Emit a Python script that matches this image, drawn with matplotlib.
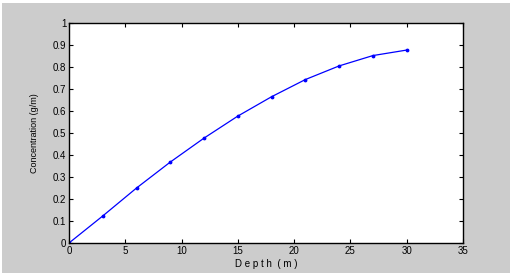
import matplotlib.pyplot as plt
import numpy as np

depth = [0, 3, 6, 9, 12, 15, 18, 21, 24, 27, 30]
conc = [0, 0.123, 0.25, 0.368, 0.477, 0.577, 0.665, 0.743, 0.805, 0.852, 0.877]

plt.rcParams['font.family'] = ['Liberation Sans', 'DejaVu Sans']

fig = plt.figure(figsize=(5.14, 2.76), dpi=100, facecolor='white')
# grey panel behind everything, with a thin white margin
bg = fig.add_axes([2/514, 3/276, 508/514, 270/276])
bg.set_facecolor('#cccccc')
bg.set_xticks([])
bg.set_yticks([])
for s in bg.spines.values():
    s.set_visible(False)

ax = fig.add_axes([69/514, 1 - 243/276, (463 - 69)/514, (243 - 23)/276])
ax.plot(depth, conc, color='blue', lw=0.9, marker='.', markersize=3.5)
ax.set_xlim(0, 35)
ax.set_ylim(0, 1)
ax.set_xticks(np.arange(0, 36, 5))
ax.set_yticks(np.arange(0, 1.01, 0.1))
ax.set_yticklabels(['0', '0.1', '0.2', '0.3', '0.4', '0.5', '0.6', '0.7', '0.8', '0.9', '1'])
ax.tick_params(direction='in', top=True, right=True, length=3, width=0.8,
               labelsize=7, pad=2)
for s in ax.spines.values():
    s.set_linewidth(1.0)
ax.set_xlabel('D e p t h  ( m )', fontsize=7, labelpad=2)
ax.set_ylabel('Concentration (g/m)', fontsize=6.5, labelpad=10)

fig.savefig('out.png', dpi=100, facecolor=fig.get_facecolor())
